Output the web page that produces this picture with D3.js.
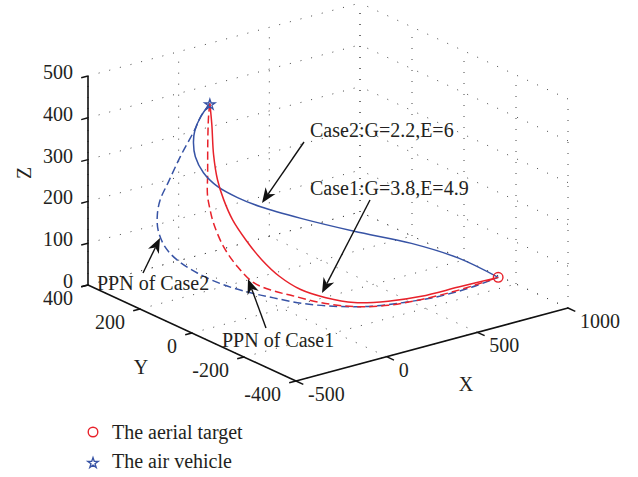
<!DOCTYPE html>
<html>
<head>
<meta charset="utf-8">
<script src="https://cdn.jsdelivr.net/npm/d3@7"></script>
<style>
  body { margin: 0; background: #fff; }
  text { font-family: "Liberation Serif", "DejaVu Serif", serif; fill: #231f20; }
</style>
</head>
<body>
<svg class="chart"></svg>
<script>
// axis ticks
const xTicks = [-500, 0, 500, 1000]
const yTicks = [-400, -200, 0, 200, 400]
const zTicks = [0, 100, 200, 300, 400, 500]

// start and end points
const vehicle = [0, 280, 410]
const target = [830, -250, 50]

// Case2: G=2.2, E=6 (blue solid)
const case2X = [0, -55, -99, -122, -136, -130, -97, -38, 36, 171, 354, 554, 711, 830]
const case2Y = [280, 277, 269, 258, 241, 214, 182, 147, 110, 49, -28, -109, -181, -250]
const case2Z = [410, 386, 360, 337, 310, 279, 251, 228, 208, 182, 152, 123, 90, 50]

// PPN of Case2 (blue dashed)
const ppn2X = [0, -55, -98, -193, -277, -336, -370, -390, -389, -363, -306, -225, -134, -54, 52, 178, 304, 436, 576, 716, 830]
const ppn2Y = [280, 277, 270, 259, 246, 237, 224, 207, 181, 153, 115, 71, 30, -3, -45, -89, -128, -163, -198, -227, -250]
const ppn2Z = [410, 386, 362, 312, 265, 231, 203, 174, 141, 115, 88, 63, 45, 33, 19, 10, 7, 11, 19, 33, 50]

// Case1: G=3.8, E=4.9 (red solid)
const case1X = [0, -25, -64, -87, -94, -91, -72, -41, 2, 62, 145, 245, 377, 511, 666, 830]
const case1Y = [280, 255, 221, 190, 161, 129, 92, 52, 13, -26, -65, -104, -143, -177, -212, -250]
const case1Z = [410, 370, 312, 264, 225, 186, 147, 107, 73, 46, 28, 16, 15, 21, 35, 50]

// PPN of Case1 (red dashed)
const ppn1X = [0, -21, -63, -114, -148, -160, -168, -167, -144, -107, -47, 22, 119, 239, 371, 506, 662, 830]
const ppn1Y = [280, 270, 244, 209, 186, 169, 149, 111, 73, 37, 6, -23, -64, -108, -147, -181, -215, -250]
const ppn1Z = [410, 389, 341, 278, 236, 211, 182, 136, 96, 64, 47, 35, 19, 8, 7, 15, 29, 50]

const red = "#e8222b"
const blue = "#3753a5"

const svg = d3.select("svg.chart")
        .attr("width", 638)
        .attr("height", 477)

// oblique 3d view: each axis adds its own screen offset
const ox = 88, oy = 285
const sxX = d3.scaleLinear().domain([-500, 1000]).range([0, 272])
const syX = d3.scaleLinear().domain([-500, 1000]).range([0, -73])
const sxY = d3.scaleLinear().domain([400, -400]).range([0, 208])
const syY = d3.scaleLinear().domain([400, -400]).range([0, 96])
const syZ = d3.scaleLinear().domain([0, 500]).range([0, -209])

function proj(x, y, z) {
        return [ox + sxX(x) + sxY(y), oy + syX(x) + syY(y) + syZ(z)]
}

const xMin = -500, xMax = 1000, yMin = -400, yMax = 400, zMin = 0, zMax = 500

// grid segments on floor and the two back walls
const grid = []
xTicks.forEach(x => {
        grid.push([[x, yMin, zMin], [x, yMax, zMin]])
        grid.push([[x, yMax, zMin], [x, yMax, zMax]])
})
yTicks.forEach(y => {
        grid.push([[xMin, y, zMin], [xMax, y, zMin]])
        grid.push([[xMax, y, zMin], [xMax, y, zMax]])
})
zTicks.forEach(z => {
        grid.push([[xMin, yMax, z], [xMax, yMax, z]])
        grid.push([[xMax, yMin, z], [xMax, yMax, z]])
})

svg.append("g")
        .selectAll("line")
        .data(grid)
        .enter()
        .append("line")
        .attr("x1", d => proj(...d[0])[0])
        .attr("y1", d => proj(...d[0])[1])
        .attr("x2", d => proj(...d[1])[0])
        .attr("y2", d => proj(...d[1])[1])
        .style("stroke", "#444")
        .style("stroke-width", 1)
        .style("stroke-dasharray", "1,10")

// axis lines
const axes = [
        [[xMin, yMin, zMin], [xMax, yMin, zMin]],
        [[xMin, yMax, zMin], [xMin, yMin, zMin]],
        [[xMin, yMax, zMin], [xMin, yMax, zMax]]
]
svg.append("g")
        .selectAll("line")
        .data(axes)
        .enter()
        .append("line")
        .attr("x1", d => proj(...d[0])[0])
        .attr("y1", d => proj(...d[0])[1])
        .attr("x2", d => proj(...d[1])[0])
        .attr("y2", d => proj(...d[1])[1])
        .style("stroke", "#111")
        .style("stroke-width", 1.6)

const tickG = svg.append("g").style("stroke", "#111").style("stroke-width", 1.4)

// x ticks and labels
xTicks.forEach(v => {
        const p = proj(v, yMin, zMin)
        tickG.append("line").attr("x1", p[0]).attr("y1", p[1]).attr("x2", p[0] + 7.3).attr("y2", p[1] + 3.4)
        svg.append("text").attr("x", p[0] + 12).attr("y", p[1] + 20)
                .style("font-size", "20px").text(v)
})

// y ticks and labels
yTicks.forEach(v => {
        const p = proj(xMin, v, zMin)
        tickG.append("line").attr("x1", p[0]).attr("y1", p[1]).attr("x2", p[0] - 6.8).attr("y2", p[1] + 1.8)
        svg.append("text").attr("x", p[0] - 15).attr("y", p[1] + 20)
                .attr("text-anchor", "end").style("font-size", "20px").text(v)
})

// z ticks and labels
zTicks.forEach(v => {
        const p = proj(xMin, yMax, v)
        tickG.append("line").attr("x1", p[0]).attr("y1", p[1]).attr("x2", p[0] - 6.8).attr("y2", p[1] + 1.8)
        svg.append("text").attr("x", p[0] - 15).attr("y", p[1] + 3)
                .attr("text-anchor", "end").style("font-size", "20px").text(v)
})

// axis titles
svg.append("text").attr("x", 466).attr("y", 391).attr("text-anchor", "middle")
        .style("font-size", "20px").text("X")
svg.append("text").attr("x", 141).attr("y", 374).attr("text-anchor", "middle")
        .style("font-size", "20px").text("Y")
svg.append("text").attr("transform", "translate(31,173)rotate(-90)").attr("text-anchor", "middle")
        .style("font-size", "20px").text("Z")

// trajectories
const line = d3.line()
        .x(d => d[0])
        .y(d => d[1])
        .curve(d3.curveCatmullRom.alpha(0.5))

const series = [
        { xs: ppn2X, ys: ppn2Y, zs: ppn2Z, color: blue, dash: "8,4" },
        { xs: ppn1X, ys: ppn1Y, zs: ppn1Z, color: red, dash: "8,4" },
        { xs: case2X, ys: case2Y, zs: case2Z, color: blue, dash: null },
        { xs: case1X, ys: case1Y, zs: case1Z, color: red, dash: null }
]

svg.append("g")
        .selectAll("path")
        .data(series)
        .enter()
        .append("path")
        .attr("d", s => line(s.xs.map((x, i) => proj(x, s.ys[i], s.zs[i]))))
        .style("fill", "none")
        .style("stroke", s => s.color)
        .style("stroke-width", 1.5)
        .style("stroke-dasharray", s => s.dash)

// markers
const star = d3.symbol().type(d3.symbolStar).size(34)
const vp = proj(...vehicle)
const tp = proj(...target)
svg.append("path").attr("d", star).attr("transform", "translate(" + vp[0] + "," + (vp[1] + 1) + ")")
        .style("fill", "none").style("stroke", blue).style("stroke-width", 1.3)
svg.append("circle").attr("cx", tp[0]).attr("cy", tp[1]).attr("r", 4.8)
        .style("fill", "none").style("stroke", red).style("stroke-width", 1.4)

// annotations
const notes = [
        { text: "Case2:G=2.2,E=6", tx: 310, ty: 137, from: [304, 142], to: [262, 203] },
        { text: "Case1:G=3.8,E=4.9", tx: 310, ty: 195, from: [370, 200], to: [322, 293] },
        { text: "PPN of Case2", tx: 97, ty: 290, from: [143, 273], to: [160, 238] },
        { text: "PPN of Case1", tx: 222, ty: 347, from: [266, 328], to: [248, 279] }
]

notes.forEach(n => {
        svg.append("text").attr("x", n.tx).attr("y", n.ty).style("font-size", "20px").text(n.text)
        const dx = n.to[0] - n.from[0], dy = n.to[1] - n.from[1]
        const len = Math.sqrt(dx * dx + dy * dy)
        const ux = dx / len, uy = dy / len
        const hl = 15, hw = 6
        const bx = n.to[0] - ux * hl, by = n.to[1] - uy * hl
        const mx = n.to[0] - ux * hl * 0.7, my = n.to[1] - uy * hl * 0.7
        svg.append("line")
                .attr("x1", n.from[0]).attr("y1", n.from[1])
                .attr("x2", mx).attr("y2", my)
                .style("stroke", "#111").style("stroke-width", 1.4)
        svg.append("path")
                .attr("d", "M" + n.to[0] + "," + n.to[1]
                        + "L" + (bx - uy * hw) + "," + (by + ux * hw)
                        + "L" + mx + "," + my
                        + "L" + (bx + uy * hw) + "," + (by - ux * hw) + "Z")
                .style("fill", "#111")
})

// legend
svg.append("circle").attr("cx", 93).attr("cy", 432).attr("r", 4.8)
        .style("fill", "none").style("stroke", red).style("stroke-width", 1.4)
svg.append("text").attr("x", 112).attr("y", 438.5).style("font-size", "20px").text("The aerial target")
svg.append("path").attr("d", star).attr("transform", "translate(93,463)")
        .style("fill", "none").style("stroke", blue).style("stroke-width", 1.3)
svg.append("text").attr("x", 112).attr("y", 468).style("font-size", "20px").text("The air vehicle")
</script>
</body>
</html>
